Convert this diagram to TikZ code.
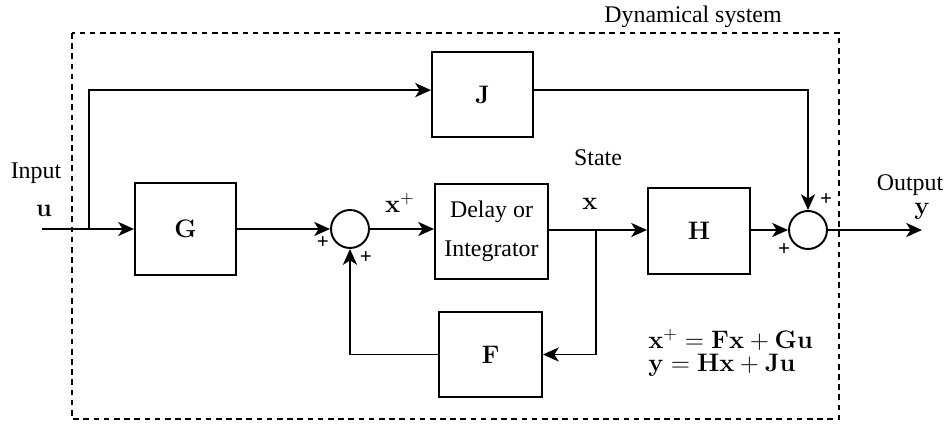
\documentclass[tikz,border=0pt]{standalone}
\usepackage[no-math]{fontspec}
\setmainfont{Liberation Serif}
\usepackage{amsmath}
\usetikzlibrary{arrows.meta, positioning, calc}

\begin{document}
\begin{tikzpicture}[
    x=0.02cm, y=-0.02cm,
    font=\fontsize{13.6}{16}\selectfont,
    block/.style={rectangle, draw, line width=1.1pt, minimum width=#1, align=center},
    summer/.style={circle, draw, line width=1.1pt, minimum size=0.76cm, inner sep=0pt},
    arrow/.style={-{Stealth[length=9pt, width=8pt, inset=2.5pt]}, line width=1.1pt},
    sign/.style={font=\fontsize{12}{12}\selectfont\bfseries, inner sep=0pt}
]
\useasboundingbox (0,0) rectangle (947,425);

% system border
\draw[line width=1.2pt, dash pattern=on 3.2pt off 2.6pt] (72,33) rectangle (839,419);
\node (sysname) at (693,17) {Dynamical system};

% blocks
\node[block=2.02cm, minimum height=1.70cm] (J) at (482.5,94.5) {$\mathbf{J}$};
\node[block=2.02cm, minimum height=1.84cm] (G) at (185.5,229) {$\mathbf{G}$};
\node[summer] (sum1) at (350,229) {};
\node[block=2.26cm, minimum height=1.90cm, inner sep=0pt] (delay) at (491.5,231.5)
    {Delay or\\[6pt]Integrator};
\node[block=2.04cm, minimum height=1.72cm] (H) at (699,231) {$\mathbf{H}$};
\node[summer] (sum2) at (808,230) {};
\node[block=2.06cm, minimum height=1.70cm] (F) at (490.5,354.5) {$\mathbf{F}$};

% free ends and branch points
\coordinate (in) at (42,229);
\coordinate (split) at (89,229);
\coordinate (out) at (922,230);
\coordinate (tap) at (596,230);

% labels
\node (inlabel) at (36,173) {Input};
\node (u) at (44,211) {$\mathbf{u}$};
\node (outlabel) at (910,185) {Output};
\node (y) at (922,211) {$\mathbf{y}$};
\node (state) at (598,158) {State};
\node (x) at (590,204) {$\mathbf{x}$};
\node (xplus) at (400,203) {$\mathbf{x}^+$};
\node[sign] at (323,243) {+};
\node[sign] at (366,258) {+};
\node[sign] at (826,200) {+};
\node[sign] at (784,250) {+};
\node[anchor=west, align=left, inner sep=0pt] (eqs) at (648,353)
    {$\mathbf{x}^+ = \mathbf{F}\mathbf{x} + \mathbf{G}\mathbf{u}$\\[-3pt]
     $\mathbf{y} = \mathbf{H}\mathbf{x} + \mathbf{J}\mathbf{u}$};

% signal paths
\draw[arrow] (in) -- (G);
\draw[arrow] (split) |- ([yshift=2.5pt]J.west);
\draw[arrow] (G) -- (sum1);
\draw[arrow] (sum1) -- (sum1 -| delay.west);
\draw[arrow] (delay.east |- tap) -- (H.west |- tap);
\draw[arrow] (tap) |- (F);
\draw[arrow] (F) -| (sum1);
\draw[arrow] (H.east |- sum2) -- (sum2);
\draw[arrow] ([yshift=2.5pt]J.east) -| (sum2);
\draw[arrow] (sum2) -- (out);
\end{tikzpicture}
\end{document}
